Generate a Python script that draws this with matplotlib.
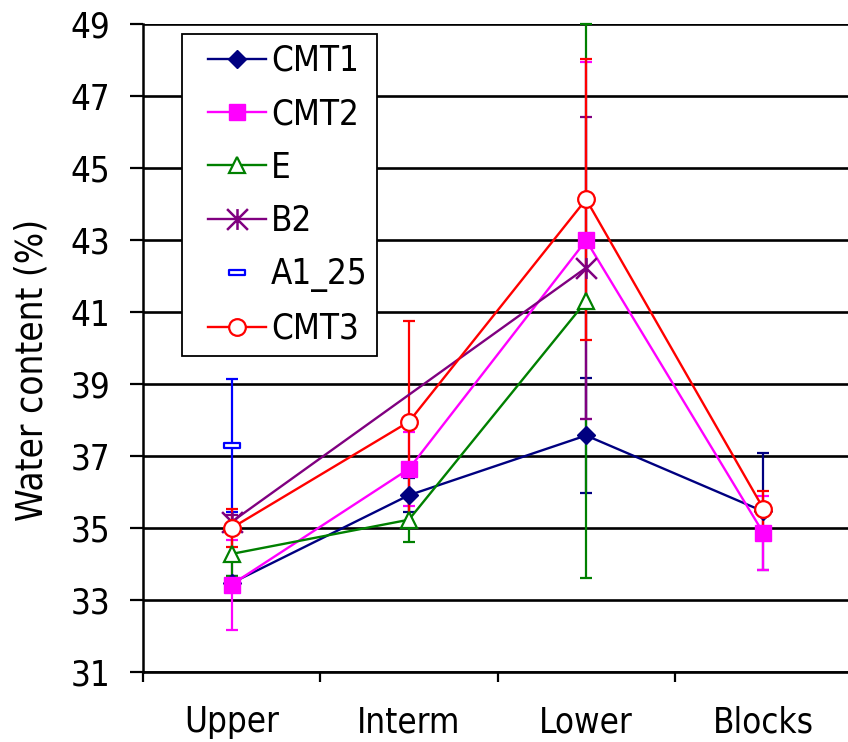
import numpy as np
import matplotlib
matplotlib.use("Agg")
import matplotlib.pyplot as plt
from matplotlib.path import Path
from matplotlib import font_manager
from matplotlib.legend_handler import HandlerLine2D

# ---- data -------------------------------------------------------------
categories = ["Upper", "Interm", "Lower", "Blocks"]

cmt1 = [33.47, 35.91, 37.57, 35.46]
cmt1_err = [0.20, 0.47, 1.60, 1.63]

cmt2 = [33.43, 36.64, 42.99, 34.86]
cmt2_err = [1.25, 1.02, 4.95, 1.04]

e_vals = [34.28, 35.23, 41.30, np.nan]
e_err = [0.60, 0.63, 7.70, np.nan]

b2 = [35.17, np.nan, 42.23, np.nan]
b2_err = [0.20, np.nan, 4.20, np.nan]

a1_25 = [37.30, np.nan, np.nan, np.nan]
a1_25_err = [1.85, np.nan, np.nan, np.nan]

cmt3 = [35.00, 37.95, 44.13, 35.54]
cmt3_err = [0.52, 2.80, 3.90, 0.50]

y_ticks = list(range(31, 50, 2))

# ---- markers ----------------------------------------------------------
star_marker = Path(
    [(0, -1), (0, 1), (-1, -1), (1, 1), (-1, 1), (1, -1)],
    [Path.MOVETO, Path.LINETO, Path.MOVETO, Path.LINETO, Path.MOVETO, Path.LINETO],
)
dash_marker = Path(
    [(-1, -0.3), (1, -0.3), (1, 0.3), (-1, 0.3), (-1, -0.3)],
    [Path.MOVETO, Path.LINETO, Path.LINETO, Path.LINETO, Path.CLOSEPOLY],
)

series = [
    dict(label="CMT1", y=cmt1, err=cmt1_err, color="#000080", marker="D",
         ms=9, mfc="#000080", line=True),
    dict(label="CMT2", y=cmt2, err=cmt2_err, color="#FF00FF", marker="s",
         ms=12, mfc="#FF00FF", line=True),
    dict(label="E", y=e_vals, err=e_err, color="#008000", marker="^",
         ms=12, mfc="white", line=True),
    dict(label="B2", y=b2, err=b2_err, color="#800080", marker=star_marker,
         ms=15, mfc="none", line=True),
    dict(label="A1_25", y=a1_25, err=a1_25_err, color="#0000FF", marker=dash_marker,
         ms=12, mfc="white", line=False),
    dict(label="CMT3", y=cmt3, err=cmt3_err, color="#FF0000", marker="o",
         ms=12, mfc="white", line=True),
]

plt.rcParams["font.family"] = ["DejaVu Sans"]
plt.rcParams["font.stretch"] = "condensed"
FS = 25
font = font_manager.FontProperties(family="DejaVu Sans", stretch="condensed", size=FS)
label_font = font_manager.FontProperties(family="DejaVu Sans", stretch="condensed",
                                         size=26.5)

fig = plt.figure(figsize=(8.48, 7.42), dpi=100)
ax = fig.add_axes([143 / 848, 70 / 742, 709 / 848, 648 / 742])

x_all = np.arange(1, len(categories) + 1)

# error bars sit underneath every line and marker
for i, s in enumerate(series):
    y = np.array(s["y"], dtype=float)
    err = np.array(s["err"], dtype=float)
    ok = ~np.isnan(y)
    ax.errorbar(x_all[ok], y[ok], yerr=err[ok], fmt="none", ecolor=s["color"],
                elinewidth=1.6, capsize=4.5, capthick=1.6, zorder=2 + i * 0.01,
                clip_on=False)

handles = []
for i, s in enumerate(series):
    y = np.array(s["y"], dtype=float)
    ok = ~np.isnan(y)
    ls = "-" if s["line"] else "none"
    mew = 1.6 if s["mfc"] in ("white", "none") else 1.0
    if s["label"] == "B2":
        mew = 1.8
    h, = ax.plot(x_all[ok], y[ok], linestyle=ls, color=s["color"], lw=1.7,
                 marker=s["marker"], ms=s["ms"], mfc=s["mfc"], mec=s["color"],
                 mew=mew, label=s["label"], zorder=3 + i * 0.1, clip_on=False)
    handles.append(h)

# axes
ax.set_xlim(0.5, len(categories) + 0.5)
ax.set_ylim(31, 49)
ax.set_yticks(y_ticks)
ax.set_yticklabels([str(v) for v in y_ticks], fontproperties=font)
ax.yaxis.grid(True, color="black", linewidth=1.9)
ax.set_axisbelow(True)
for side in ("top", "right"):
    ax.spines[side].set_visible(False)
ax.spines["left"].set_linewidth(1.8)
ax.spines["bottom"].set_linewidth(1.9)

ax.tick_params(axis="y", direction="out", length=9.5, width=1.6, pad=14)
ax.set_xticks(np.arange(0.5, len(categories) + 1, 1.0))
ax.set_xticks(x_all, minor=True)
ax.set_xticklabels([""] * (len(categories) + 1))
ax.set_xticklabels(categories, minor=True, fontproperties=font)
ax.tick_params(axis="x", which="major", direction="out", length=7.5, width=1.6)
ax.tick_params(axis="x", which="minor", length=0, pad=24)

ax.set_ylabel("Water content (%)", fontproperties=label_font)
ax.yaxis.set_label_coords(-0.131, 0.466)

line_handler = HandlerLine2D(xpad=0.46)
leg = ax.legend(handles=handles, loc="upper left",
                bbox_to_anchor=(182 / 848, 1 - 34 / 742),
                bbox_transform=fig.transFigure, borderaxespad=0,
                prop=font, frameon=True, fancybox=False, framealpha=1,
                edgecolor="black", handlelength=2.13, handletextpad=0.15,
                labelspacing=0.56, borderpad=0.28,
                handler_map={h: line_handler for h in handles})
leg.get_frame().set_linewidth(1.3)
leg.set_zorder(10)

fig.savefig("out.png", dpi=100)
